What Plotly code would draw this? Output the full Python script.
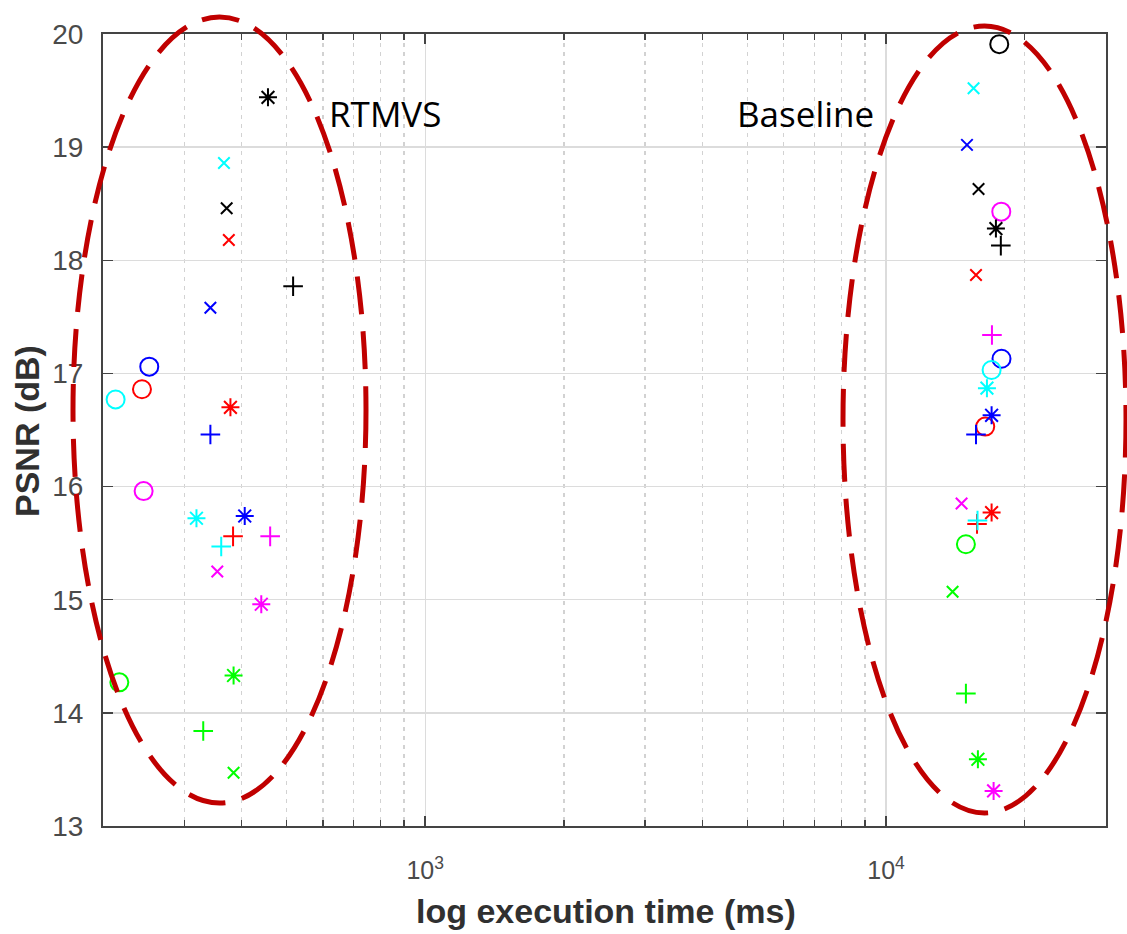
import math
import plotly.graph_objects as go

# ---------------- data ----------------
# dataset colours (MATLAB k, b, r, c, m, g)
dataset_colors = ["#000000", "#0000FF", "#FF0000", "#00FFFF", "#FF00FF", "#00FF00"]

# RTMVS: execution time (ms) and PSNR (dB), one value per dataset colour
rtmvs_o_time = [200, 252, 243, 213, 245, 217]
rtmvs_o_psnr = [17.79, 17.06, 16.86, 16.77, 15.96, 14.27]
rtmvs_x_time = [371, 342, 375, 366, 354, 384]
rtmvs_x_psnr = [18.46, 17.58, 18.18, 18.86, 15.25, 13.47]
rtmvs_star_time = [456, 406, 378, 319, 441, 384]
rtmvs_star_psnr = [19.44, 15.74, 16.70, 15.72, 14.96, 14.33]
rtmvs_plus_time = [517, 342, 383, 361, 461, 330]
rtmvs_plus_psnr = [17.77, 16.46, 15.56, 15.47, 15.56, 13.84]

# Baseline
base_o_time = [17600, 17800, 16410, 16940, 17780, 14900]
base_o_psnr = [19.91, 17.13, 16.53, 17.03, 18.43, 15.49]
base_x_time = [15870, 14980, 15670, 15480, 14580, 13940]
base_x_psnr = [18.63, 19.02, 17.87, 19.52, 15.85, 15.07]
base_star_time = [17310, 16940, 16940, 16550, 17110, 15820]
base_star_psnr = [18.28, 16.63, 15.77, 16.87, 13.31, 13.59]
base_plus_time = [17740, 15670, 15750, 15790, 16970, 14900]
base_plus_psnr = [18.13, 16.46, 15.67, 15.70, 17.34, 14.17]

y_ticks = [13, 14, 15, 16, 17, 18, 19, 20]
x_major_ticks = [1000, 10000]
x_major_labels = ["10<sup>3</sup>", "10<sup>4</sup>"]
x_minor_ticks = [300, 400, 500, 600, 700, 800, 900,
                 2000, 3000, 4000, 5000, 6000, 7000, 8000, 9000, 20000]
x_range = [200, 30000]
y_range = [13, 20]

# ---------------- layout geometry ----------------
W, H = 1127, 934
ML, MR, MT, MB = 103, 21, 34, 108
PW, PH = W - ML - MR, H - MT - MB


def px_x(px):
    return (px - ML) / PW


def px_y(py):
    return (H - MB - py) / PH


fig = go.Figure()

marker_specs = [
    ("circle-open", 18, rtmvs_o_time, rtmvs_o_psnr, base_o_time, base_o_psnr),
    ("x-thin-open", 11.5, rtmvs_x_time, rtmvs_x_psnr, base_x_time, base_x_psnr),
    ("asterisk-open", 15, rtmvs_star_time, rtmvs_star_psnr, base_star_time, base_star_psnr),
    ("cross-thin-open", 14, rtmvs_plus_time, rtmvs_plus_psnr, base_plus_time, base_plus_psnr),
]

draw_order = [5, 2, 4, 0, 1, 3]  # green, red, magenta, black, blue, cyan

for sym, size, rt, rp, bt, bp in marker_specs:
    for xs, ys in ((rt, rp), (bt, bp)):
        fig.add_trace(go.Scatter(
            x=[xs[i] for i in draw_order],
            y=[ys[i] for i in draw_order],
            mode="markers",
            cliponaxis=False,
            showlegend=False,
            hoverinfo="skip",
            marker=dict(
                symbol=sym,
                size=size,
                color=[dataset_colors[i] for i in draw_order],
                line=dict(width=2, color=[dataset_colors[i] for i in draw_order]),
            ),
        ))

axis_col = "#444444"
tick_font_col = "#4a4a4a"

fig.update_xaxes(
    type="log",
    range=[math.log10(x_range[0]), math.log10(x_range[1])],
    tickmode="array",
    tickvals=x_major_ticks,
    ticktext=x_major_labels,
    ticks="inside",
    ticklen=10,
    tickwidth=1.5,
    tickcolor=axis_col,
    showline=True,
    linecolor=axis_col,
    linewidth=2,
    mirror="ticks",
    showgrid=True,
    gridcolor="#dcdcdc",
    gridwidth=1.3,
    zeroline=False,
    tickfont=dict(family="Liberation Sans, Arial, sans-serif", size=25, color=tick_font_col),
    ticklabelstandoff=21,
    minor=dict(
        tickmode="array",
        tickvals=x_minor_ticks,
        ticks="inside",
        ticklen=6,
        tickwidth=1.2,
        tickcolor=axis_col,
        showgrid=True,
        gridcolor="#d2d2d2",
        gridwidth=1.2,
        griddash="4px,5px",
    ),
)

fig.update_yaxes(
    range=y_range,
    tickmode="array",
    tickvals=y_ticks,
    ticktext=[str(v) for v in y_ticks],
    ticks="inside",
    ticklen=10,
    tickwidth=1.5,
    tickcolor=axis_col,
    showline=True,
    linecolor=axis_col,
    linewidth=2,
    mirror="ticks",
    showgrid=True,
    gridcolor="#dcdcdc",
    gridwidth=1.3,
    zeroline=False,
    tickfont=dict(family="Liberation Sans, Arial, sans-serif", size=28, color=tick_font_col),
    ticklabelstandoff=12,
)

title_font = dict(family="Liberation Sans, Arial, sans-serif", size=34, color="#303030")
label_font = dict(family="Open Sans, sans-serif", size=35, color="#000000")

annotations = [
    dict(text="<b>log execution time (ms)</b>", x=px_x(606), y=px_y(911),
         xref="paper", yref="paper", xanchor="center", yanchor="middle",
         showarrow=False, font=title_font),
    dict(text="<b>PSNR (dB)</b>", x=px_x(27), y=px_y(431),
         xref="paper", yref="paper", xanchor="center", yanchor="middle",
         textangle=-90, showarrow=False, font=title_font),
    dict(text="RTMVS", x=px_x(327), y=px_y(114),
         xref="paper", yref="paper", xanchor="left", yanchor="middle",
         showarrow=False, font=label_font),
    dict(text="Baseline", x=px_x(735), y=px_y(114),
         xref="paper", yref="paper", xanchor="left", yanchor="middle",
         showarrow=False, font=label_font),
]

ellipse_line = dict(color="#C00000", width=5, dash="38px,17px")
shapes = [
    dict(type="circle", xref="paper", yref="paper",
         x0=px_x(73), x1=px_x(366), y0=px_y(803), y1=px_y(17),
         line=ellipse_line, layer="above"),
    dict(type="circle", xref="paper", yref="paper",
         x0=px_x(843), x1=px_x(1126), y0=px_y(813), y1=px_y(26),
         line=ellipse_line, layer="above"),
]

fig.update_layout(
    width=W, height=H,
    margin=dict(l=ML, r=MR, t=MT, b=MB, pad=0),
    paper_bgcolor="white",
    plot_bgcolor="white",
    annotations=annotations,
    shapes=shapes,
    showlegend=False,
)

fig.write_html(
    "out.html",
    config={"displayModeBar": False, "staticPlot": True},
    post_script="document.body.style.margin='0px';document.body.style.padding='0px';",
)
